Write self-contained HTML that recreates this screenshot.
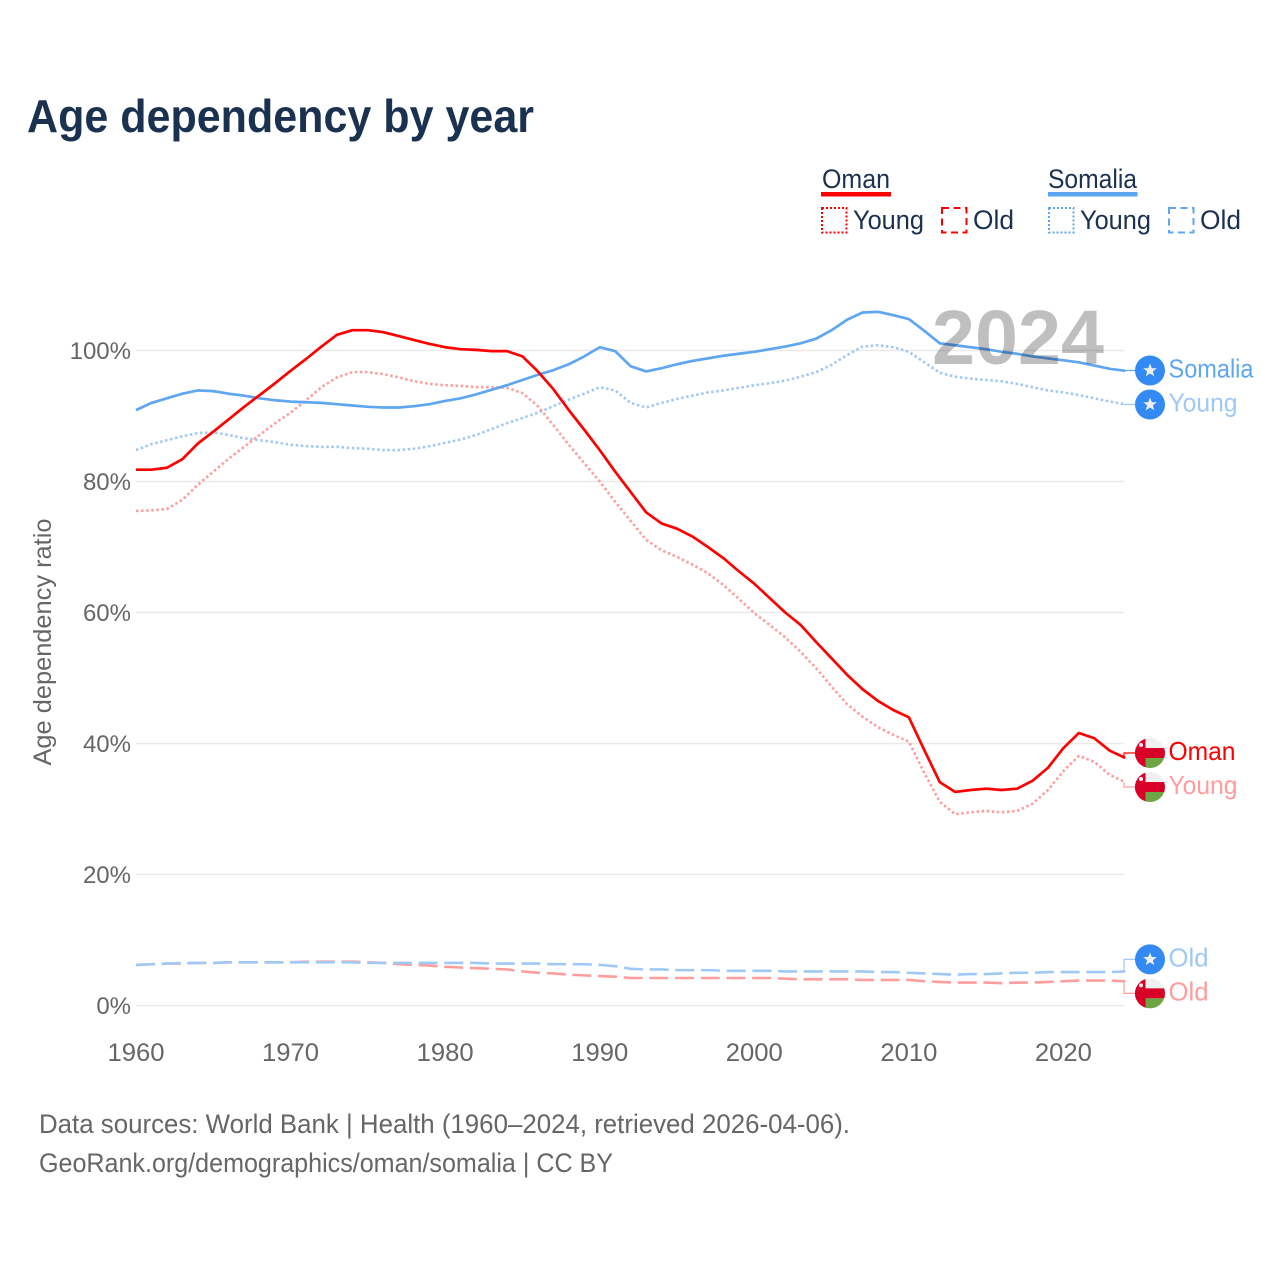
<!DOCTYPE html>
<html lang="en">
<head>
<meta charset="utf-8">
<title>Age dependency by year</title>
<style>
html,body{margin:0;padding:0;background:#fff;}
svg{display:block;font-family:"Liberation Sans",sans-serif;}
</style>
</head>
<body>
<svg id="chart" xmlns="http://www.w3.org/2000/svg" width="1280" height="1280" viewBox="0 0 1280 1280">
  <rect width="1280" height="1280" fill="#fff"/>
  <text x="27" y="132" font-size="46" font-weight="700" fill="#1a3250" textLength="507" lengthAdjust="spacingAndGlyphs">Age dependency by year</text>

  <g font-size="27" fill="#1a3250">
    <text x="822" y="188" textLength="68" lengthAdjust="spacingAndGlyphs">Oman</text>
    <rect x="821" y="192" width="70" height="4.5" fill="#ff0000"/>
    <rect x="822" y="208" width="24.5" height="24.5" fill="none" stroke="#ff0000" stroke-width="2" stroke-dasharray="2 2"/>
    <text x="853" y="229" textLength="71" lengthAdjust="spacingAndGlyphs">Young</text>
    <rect x="942" y="208" width="24.5" height="24.5" fill="none" stroke="#ff0000" stroke-width="2" stroke-dasharray="7 4.5"/>
    <text x="973" y="229" textLength="41" lengthAdjust="spacingAndGlyphs">Old</text>
    <text x="1048" y="188" textLength="89" lengthAdjust="spacingAndGlyphs">Somalia</text>
    <rect x="1048" y="192" width="89.5" height="4.5" fill="#5fa6f0"/>
    <rect x="1049" y="208" width="24.5" height="24.5" fill="none" stroke="#5fa6f0" stroke-width="2" stroke-dasharray="2 2"/>
    <text x="1080" y="229" textLength="71" lengthAdjust="spacingAndGlyphs">Young</text>
    <rect x="1169" y="208" width="24.5" height="24.5" fill="none" stroke="#5fa6f0" stroke-width="2" stroke-dasharray="7 4.5"/>
    <text x="1200" y="229" textLength="41" lengthAdjust="spacingAndGlyphs">Old</text>
  </g>

  <g id="grid"></g>
  <g id="yticks"></g>
  <g id="xticks"></g>
  <text transform="translate(51 642) rotate(-90)" text-anchor="middle" font-size="25" fill="#666" textLength="247" lengthAdjust="spacingAndGlyphs">Age dependency ratio</text>
  <g id="lines"></g>
  <g id="labels"></g>
  <text x="932" y="364" font-size="77" font-weight="700" fill="#000" fill-opacity="0.25" textLength="172" lengthAdjust="spacingAndGlyphs">2024</text>

  <text x="39" y="1133" font-size="27" fill="#666" textLength="811" lengthAdjust="spacingAndGlyphs">Data sources: World Bank | Health (1960–2024, retrieved 2026-04-06).</text>
  <text x="39" y="1172" font-size="27" fill="#666" textLength="574" lengthAdjust="spacingAndGlyphs">GeoRank.org/demographics/oman/somalia | CC BY</text>
</svg>
<script>
const startYear = 1960;
const xTickLabels = [1960, 1970, 1980, 1990, 2000, 2010, 2020];
const yTickLabels = [0, 20, 40, 60, 80, 100];
const omanTotal = [81.8,81.8,82.1,83.4,85.8,87.6,89.5,91.4,93.2,95.0,
  96.9,98.7,100.6,102.4,103.1,103.1,102.8,102.2,101.6,101.0,
  100.5,100.2,100.1,99.9,99.9,99.1,96.8,94.1,90.9,87.9,
  84.8,81.5,78.4,75.3,73.6,72.8,71.6,70.0,68.3,66.3,
  64.4,62.2,60.0,58.1,55.5,53.0,50.5,48.3,46.5,45.1,
  44.0,39.0,34.1,32.6,32.9,33.1,32.9,33.1,34.3,36.3,
  39.3,41.6,40.8,38.9,37.8];
const omanYoung = [75.5,75.6,75.8,77.2,79.5,81.5,83.5,85.3,87.1,88.9,
  90.5,92.4,94.4,95.9,96.7,96.7,96.4,95.9,95.3,94.9,
  94.7,94.6,94.4,94.4,94.3,93.5,91.5,88.6,85.6,82.8,
  80.0,76.9,74.0,71.1,69.5,68.5,67.3,66.0,64.2,62.1,
  59.9,58.1,56.2,54.0,51.5,48.7,46.0,44.1,42.5,41.3,
  40.3,35.5,31.1,29.2,29.5,29.7,29.5,29.7,30.8,32.9,
  35.8,38.1,37.2,35.2,34.1];
const omanOld = [6.2,6.3,6.4,6.4,6.5,6.5,6.6,6.6,6.6,6.6,
  6.6,6.7,6.7,6.7,6.7,6.6,6.5,6.3,6.2,6.1,
  5.9,5.8,5.7,5.6,5.5,5.2,5.0,4.9,4.7,4.6,
  4.5,4.4,4.2,4.2,4.2,4.2,4.2,4.2,4.2,4.2,
  4.2,4.2,4.1,4.0,4.0,4.0,4.0,3.9,3.9,3.9,
  3.9,3.7,3.6,3.5,3.5,3.5,3.4,3.5,3.5,3.6,
  3.7,3.8,3.8,3.8,3.7];
const somaliaTotal = [90.9,92.0,92.7,93.4,93.9,93.8,93.4,93.1,92.7,92.4,
  92.2,92.1,92.0,91.8,91.6,91.4,91.3,91.3,91.5,91.8,
  92.3,92.7,93.3,94.0,94.7,95.5,96.3,97.0,97.9,99.1,
  100.5,99.9,97.6,96.8,97.3,97.9,98.4,98.8,99.2,99.5,
  99.8,100.2,100.6,101.1,101.8,103.1,104.7,105.8,105.9,105.4,
  104.8,103.0,101.1,100.8,100.5,100.2,99.8,99.5,99.1,98.8,
  98.5,98.2,97.7,97.2,96.9];
const somaliaYoung = [84.8,85.7,86.3,86.9,87.4,87.5,87.1,86.6,86.3,86.0,
  85.6,85.4,85.3,85.3,85.1,85.0,84.8,84.8,85.0,85.4,
  85.9,86.4,87.1,88.0,88.9,89.7,90.5,91.5,92.5,93.4,
  94.4,93.9,92.0,91.3,92.0,92.6,93.1,93.6,93.9,94.3,
  94.7,95.0,95.4,96.0,96.7,97.8,99.3,100.6,100.8,100.5,
  99.8,98.2,96.6,96.0,95.7,95.5,95.3,94.9,94.4,93.9,
  93.6,93.2,92.7,92.2,91.8];
const somaliaOld = [6.2,6.3,6.4,6.5,6.5,6.5,6.6,6.6,6.6,6.6,
  6.6,6.6,6.6,6.6,6.6,6.5,6.5,6.5,6.5,6.5,
  6.5,6.5,6.5,6.4,6.4,6.4,6.4,6.3,6.3,6.3,
  6.2,6.0,5.6,5.5,5.5,5.4,5.4,5.4,5.3,5.3,
  5.3,5.3,5.2,5.2,5.2,5.2,5.2,5.2,5.1,5.1,
  5.0,4.9,4.8,4.7,4.8,4.8,4.9,5.0,5.0,5.1,
  5.1,5.1,5.1,5.1,5.2];

const NS = 'http://www.w3.org/2000/svg';
const xScale = function (year) { return 136 + (year - 1960) * 15.457; };
const yScale = function (v) { return 1005.5 - v * 6.55; };
const make = function (tag, parent) {
  const el = document.createElementNS(NS, tag);
  parent.appendChild(el);
  return el;
};

const grid = document.getElementById('grid');
const yticks = document.getElementById('yticks');
const xticks = document.getElementById('xticks');
yTickLabels.forEach(function (t) {
  const line = make('line', grid);
  
  
  line.setAttribute('x1', 136);
  line.setAttribute('x2', 1124);
  line.setAttribute('y1', yScale(t));
  line.setAttribute('y2', yScale(t));
  line.setAttribute('stroke', '#eaeaea');
  line.setAttribute('stroke-width', 1.5);
  const label = make('text', yticks);
  
  
  label.setAttribute('x', 131);
  label.setAttribute('y', yScale(t) + 8.5);
  label.setAttribute('text-anchor', 'end');
  label.setAttribute('font-size', 24);
  label.setAttribute('fill', '#666');
  label.textContent = t + '%';
});
xTickLabels.forEach(function (t) {
  const label = make('text', xticks);
  
  
  label.setAttribute('x', xScale(t));
  label.setAttribute('y', 1061);
  label.setAttribute('text-anchor', 'middle');
  label.setAttribute('font-size', 25);
  label.setAttribute('fill', '#666');
  label.setAttribute('textLength', 57);
  label.setAttribute('lengthAdjust', 'spacingAndGlyphs');
  label.textContent = t;
});

const DOT = '2.5 2.6';
const DASH = '19 6.7';
const series = [
  { id: 'oman-old', values: omanOld, color: '#ff9d9d', dash: DASH, label: 'Old', flag: 'oman', sw: 2.6 },
  { id: 'somalia-old', values: somaliaOld, color: '#9fc9f5', dash: DASH, label: 'Old', flag: 'somalia', sw: 2.6 },
  { id: 'somalia-young', values: somaliaYoung, color: '#9fc9f5', dash: DOT, label: 'Young', flag: 'somalia', sw: 2.6 },
  { id: 'oman-young', values: omanYoung, color: '#ff9d9d', dash: DOT, label: 'Young', flag: 'oman', sw: 2.6 },
  { id: 'somalia-total', values: somaliaTotal, color: '#5fa6f0', dash: '', label: 'Somalia', flag: 'somalia', sw: 2.7 },
  { id: 'oman-total', values: omanTotal, color: '#ff0000', dash: '', label: 'Oman', flag: 'oman', sw: 2.7 }
];
const labelWidths = { Somalia: 85, Oman: 67, Young: 69, Old: 40 };

const lines = document.getElementById('lines');
series.forEach(function (s) {
  const path = make('path', lines);
  
  
  path.setAttribute('d', s.values.map(function (v, i) {
    return (i ? 'L' : 'M') + xScale(startYear + i).toFixed(2) + ' ' + yScale(v).toFixed(2);
  }).join(' '));
  path.setAttribute('fill', 'none');
  path.setAttribute('stroke', s.color);
  path.setAttribute('stroke-width', s.sw);
  path.setAttribute('stroke-linejoin', 'round');
  if (s.dash) path.setAttribute('stroke-dasharray', s.dash);
});

/* place end labels with a minimum spacing */
const placed = series.map(function (s) {
  const endY = yScale(s.values[s.values.length - 1]);
  return { s: s, endY: endY, y: endY };
}).sort(function (a, b) { return a.endY - b.endY; });
for (let pass = 0; pass < 40; pass++) {
  for (let i = 1; i < placed.length; i++) {
    const gap = placed[i].y - placed[i - 1].y;
    if (gap < 34) {
      const push = (34 - gap) / 2;
      placed[i].y += push;
      placed[i - 1].y -= push;
    }
  }
}

const labels = document.getElementById('labels');
let clipCount = 0;
placed.forEach(function (p) {
  const s = p.s;
  const g = make('g', labels);
  
  

  const leader = make('path', g);
  
  
  leader.setAttribute('d', 'M1124 ' + p.endY + ' L1124 ' + p.y + ' L1136 ' + p.y);
  leader.setAttribute('fill', 'none');
  leader.setAttribute('stroke', s.color);
  leader.setAttribute('stroke-width', 1.2);

  const flag = make('g', g);
  
  
  flag.setAttribute('transform', 'translate(1150 ' + p.y + ')');
  if (s.flag === 'somalia') {
    const disc = make('circle', flag);
    disc.setAttribute('r', 15);
    disc.setAttribute('fill', '#338af3');
    const star = make('polygon', flag);
    star.setAttribute('points', '0,-7 1.8,-2.3 6.8,-2.2 2.9,0.9 4.2,5.7 0,3 -4.2,5.7 -2.9,0.9 -6.8,-2.2 -1.8,-2.3');
    star.setAttribute('fill', '#f0f0f0');
  } else {
    const clipId = 'flagclip' + (clipCount++);
    const clip = make('clipPath', flag);
    clip.setAttribute('id', clipId);
    const cc = make('circle', clip);
    cc.setAttribute('r', 15);
    const inner = make('g', flag);
    inner.setAttribute('clip-path', 'url(#' + clipId + ')');
    const parts = [
      [-15, -15, 30, 30, '#f0f0f0'],
      [-15, -5, 30, 10, '#d80027'],
      [-15, -15, 10.5, 30, '#d80027'],
      [-4.5, 5, 20, 10, '#6da544']
    ];
    parts.forEach(function (r) {
      const rect = make('rect', inner);
      rect.setAttribute('x', r[0]);
      rect.setAttribute('y', r[1]);
      rect.setAttribute('width', r[2]);
      rect.setAttribute('height', r[3]);
      rect.setAttribute('fill', r[4]);
    });
    const emblem = make('circle', inner);
    emblem.setAttribute('cx', -9);
    emblem.setAttribute('cy', -8);
    emblem.setAttribute('r', 2);
    emblem.setAttribute('fill', '#f0f0f0');
  }

  const t = make('text', g);
  
  
  t.setAttribute('x', 1168.5);
  t.setAttribute('y', p.y + 7);
  t.setAttribute('font-size', 26);
  t.setAttribute('fill', s.color);
  t.setAttribute('textLength', labelWidths[s.label]);
  t.setAttribute('lengthAdjust', 'spacingAndGlyphs');
  t.textContent = s.label;
});
</script>
</body>
</html>
